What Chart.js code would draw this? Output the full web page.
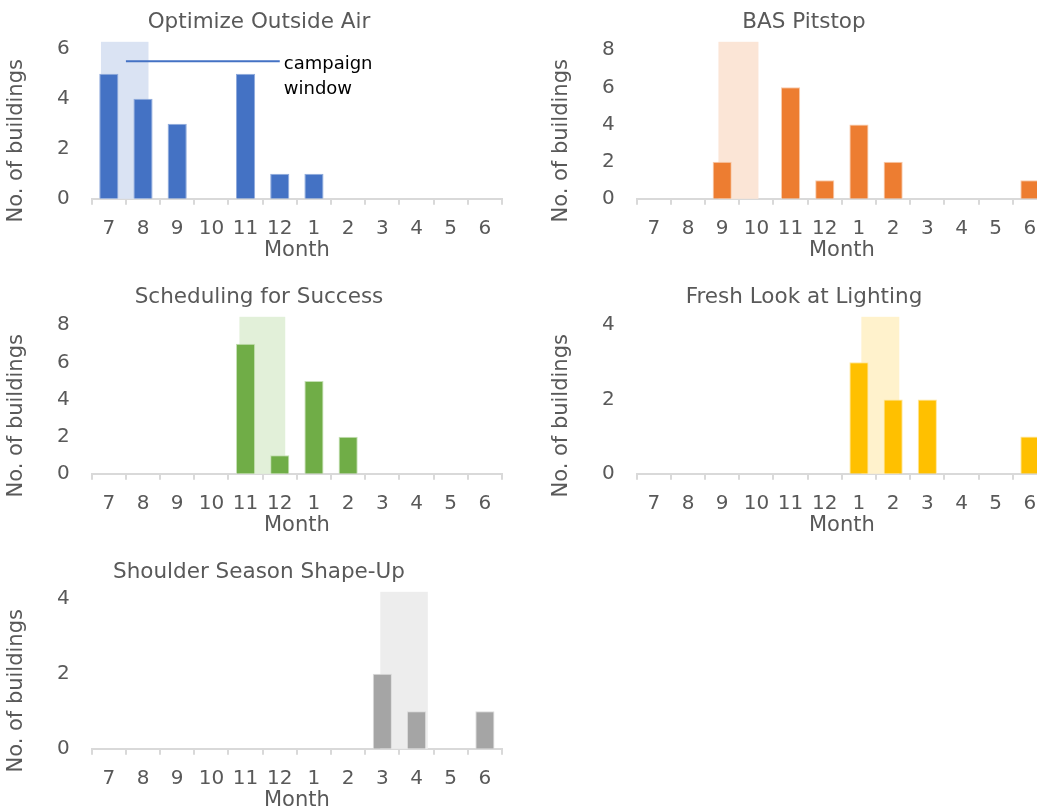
<!DOCTYPE html>
<html>
<head>
<meta charset="utf-8">
<script src="https://cdn.jsdelivr.net/npm/chart.js@4.4.1/dist/chart.umd.min.js"></script>
<style>
  html, body { margin: 0; padding: 0; background: #ffffff; overflow: hidden; width: 1037px; height: 806px; }
  .panel { position: absolute; }
  .panel canvas { display: block; }
</style>
</head>
<body>
<div class="panel" style="left:0px;top:0px"><canvas id="chartOutsideAir" width="518" height="263"></canvas></div>
<div class="panel" style="left:545px;top:0px"><canvas id="chartPitstop" width="518" height="263"></canvas></div>
<div class="panel" style="left:0px;top:275px"><canvas id="chartScheduling" width="518" height="263"></canvas></div>
<div class="panel" style="left:545px;top:275px"><canvas id="chartLighting" width="518" height="263"></canvas></div>
<div class="panel" style="left:0px;top:550px"><canvas id="chartShoulder" width="518" height="263"></canvas></div>

<script>
// Fiscal-year months, July through June
const months = ['7', '8', '9', '10', '11', '12', '1', '2', '3', '4', '5', '6'];

// Number of buildings per month for each campaign
const outsideAir = [5, 4, 3, 0, 5, 1, 1, 0, 0, 0, 0, 0];
const basPitstop = [0, 0, 2, 0, 6, 1, 4, 2, 0, 0, 0, 1];
const scheduling = [0, 0, 0, 0, 7, 1, 5, 2, 0, 0, 0, 0];
const lighting   = [0, 0, 0, 0, 0, 0, 3, 2, 2, 0, 0, 1];
const shoulder   = [0, 0, 0, 0, 0, 0, 0, 0, 2, 1, 0, 1];

// Months covered by each campaign window
const windowOutsideAir = ['7', '8'];
const windowPitstop    = ['9', '10'];
const windowScheduling = ['11', '12'];
const windowLighting   = ['1', '2'];
const windowShoulder   = ['3', '4'];

const FONT = '"DejaVu Sans", Verdana, sans-serif';
const TEXT = '#595959';
const AXIS = '#d9d9d9';

// Shaded band behind the bars marking the campaign window
const bandPlugin = {
  id: 'campaignBand',
  beforeDatasetsDraw(chart, args, opts) {
    if (!opts.months) return;
    const x = chart.scales.x, area = chart.chartArea, ctx = chart.ctx;
    const labels = chart.data.labels;
    const i0 = labels.indexOf(opts.months[0]);
    const i1 = labels.indexOf(opts.months[opts.months.length - 1]);
    const left = x.getPixelForValue(i0 - opts.extend[0]);
    const right = x.getPixelForValue(i1 + opts.extend[1]);
    ctx.save();
    ctx.fillStyle = opts.color;
    ctx.fillRect(left, area.top, right - left, area.bottom - area.top);
    ctx.restore();
  }
};

// Rotated y-axis caption drawn beside the tick labels
const yCaptionPlugin = {
  id: 'yCaption',
  afterDraw(chart, args, opts) {
    if (!opts.text) return;
    const ctx = chart.ctx, area = chart.chartArea;
    ctx.save();
    ctx.translate(opts.x, (area.top + area.bottom) / 2 + opts.shift);
    ctx.rotate(-Math.PI / 2);
    ctx.font = opts.font;
    ctx.fillStyle = opts.color;
    ctx.textAlign = 'center';
    ctx.textBaseline = 'middle';
    ctx.fillText(opts.text, 0, 0);
    ctx.restore();
  }
};

// Leader line and caption explaining the shaded band
const calloutPlugin = {
  id: 'callout',
  afterDatasetsDraw(chart, args, opts) {
    if (!opts.lines) return;
    const x = chart.scales.x, y = chart.scales.y, ctx = chart.ctx;
    const labels = chart.data.labels;
    const a = labels.indexOf(opts.from[0]);
    const b = labels.indexOf(opts.from[opts.from.length - 1]);
    const x0 = x.getPixelForValue((a + b) / 2);
    const x1 = x.getPixelForValue(labels.indexOf(opts.to));
    const yy = y.getPixelForValue(opts.value);
    ctx.save();
    ctx.strokeStyle = opts.lineColor;
    ctx.lineWidth = 2;
    ctx.beginPath();
    ctx.moveTo(x0, yy);
    ctx.lineTo(x1, yy);
    ctx.stroke();
    ctx.font = opts.font;
    ctx.fillStyle = opts.color;
    ctx.textAlign = 'left';
    ctx.textBaseline = 'alphabetic';
    opts.lines.forEach((t, k) => ctx.fillText(t, x1 + 4, yy + 7.5 + k * 25));
    ctx.restore();
  }
};

function makeChart(id, title, values, barColor, edgeColor, yMax, band, callout) {
  return new Chart(document.getElementById(id), {
    type: 'bar',
    data: {
      labels: months,
      datasets: [{
        data: values,
        backgroundColor: barColor,
        borderColor: edgeColor,
        borderWidth: 1,
        barPercentage: 0.56,
        categoryPercentage: 1.0
      }]
    },
    options: {
      responsive: false,
      animation: false,
      layout: { padding: { left: 16, right: 16, top: 0, bottom: 0 } },
      plugins: {
        legend: { display: false },
        tooltip: { enabled: false },
        title: {
          display: true,
          text: title,
          color: TEXT,
          font: { family: FONT, size: 21.5, weight: 'normal' },
          padding: { top: 10, bottom: 6 }
        },
        campaignBand: band,
        yCaption: {
          text: 'No. of buildings',
          x: 17,
          shift: 20.5,
          color: TEXT,
          font: '21px ' + FONT
        },
        callout: callout || {}
      },
      scales: {
        x: {
          grid: {
            display: true,
            drawOnChartArea: false,
            drawTicks: true,
            tickLength: 6,
            color: AXIS,
            lineWidth: 2,
            offset: true
          },
          border: { display: true, color: AXIS, width: 2 },
          ticks: {
            color: TEXT,
            font: { family: FONT, size: 20 },
            padding: 12,
            maxRotation: 0,
            autoSkip: false
          },
          title: {
            display: true,
            text: 'Month',
            color: TEXT,
            font: { family: FONT, size: 21 },
            padding: { top: -15, bottom: 0 }
          }
        },
        y: {
          min: 0,
          max: yMax,
          grid: { display: false, drawTicks: false },
          border: { display: false },
          // leave room on the left for the rotated caption
          afterFit(scale) { scale.width += 19; },
          ticks: {
            stepSize: 2,
            includeBounds: false,
            color: TEXT,
            font: { family: FONT, size: 20 },
            padding: 22
          }
        }
      }
    },
    plugins: [bandPlugin, yCaptionPlugin, calloutPlugin]
  });
}

makeChart('chartOutsideAir', 'Optimize Outside Air', outsideAir, '#4472C4', '#8FAADC', 6.28,
  { months: windowOutsideAir, color: '#DAE3F3', extend: [0.23, 0.16] },
  { from: windowOutsideAir, to: '12', value: 5.5, lines: ['campaign', 'window'],
    lineColor: '#4472C4', color: '#000000', font: '18px ' + FONT });

makeChart('chartPitstop', 'BAS Pitstop', basPitstop, '#ED7D31', '#F8CBAD', 8.45,
  { months: windowPitstop, color: '#FBE5D6', extend: [0.11, 0.06] });

makeChart('chartScheduling', 'Scheduling for Success', scheduling, '#70AD47', '#C5E0B4', 8.45,
  { months: windowScheduling, color: '#E2F0D9', extend: [0.18, 0.16] });

makeChart('chartLighting', 'Fresh Look at Lighting', lighting, '#FFC000', '#FFE699', 4.22,
  { months: windowLighting, color: '#FFF2CC', extend: [-0.07, 0.18] });

makeChart('chartShoulder', 'Shoulder Season Shape-Up', shoulder, '#A5A5A5', '#DBDBDB', 4.18,
  { months: windowShoulder, color: '#EDEDED', extend: [0.06, 0.33] });
</script>
</body>
</html>
